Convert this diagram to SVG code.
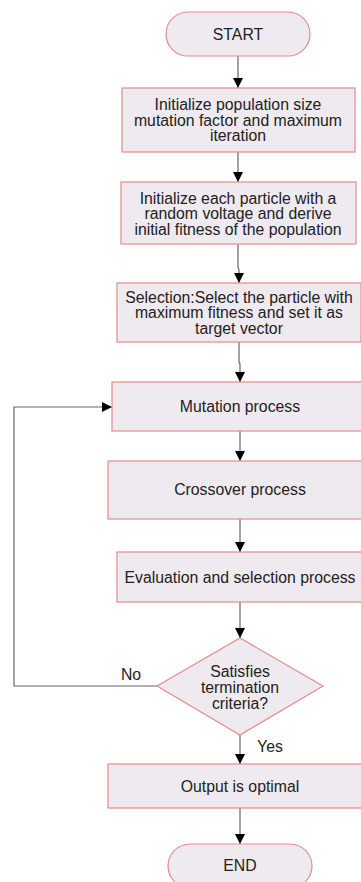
<svg xmlns="http://www.w3.org/2000/svg" width="361" height="882" viewBox="0 0 361 882">
<defs>
<style>
.n{fill:#EFEAF0;stroke:#E58A8C;stroke-width:1.2}
.t{font-family:"Liberation Sans",Arial,sans-serif;font-size:15.8px;fill:#222;text-anchor:middle}
.c{fill:none;stroke:#666;stroke-width:1.2}
</style>
<marker id="ah" markerUnits="userSpaceOnUse" markerWidth="12" markerHeight="10" refX="10" refY="5" orient="auto">
<path d="M0,0 L10,5 L0,10 Z" fill="#000"/>
</marker>
</defs>
<rect width="361" height="882" fill="#fff"/>
<g id="connectors">
<path class="c" d="M238,56 V88" marker-end="url(#ah)"/>
<path class="c" d="M238,152 V182" marker-end="url(#ah)"/>
<path class="c" d="M238,244 V267 L239,270 V283" marker-end="url(#ah)"/>
<path class="c" d="M239,342 V362 L240,364 V382" marker-end="url(#ah)"/>
<path class="c" d="M240,431 V461" marker-end="url(#ah)"/>
<path class="c" d="M240,519 V552" marker-end="url(#ah)"/>
<path class="c" d="M240,602 V638" marker-end="url(#ah)"/>
<path class="c" d="M157,686 H14 V407 H112" marker-end="url(#ah)"/>
<path class="c" d="M240,735 V764" marker-end="url(#ah)"/>
<path class="c" d="M240,808 V844" marker-end="url(#ah)"/>
<text class="t" x="131" y="680">No</text>
<text class="t" x="270" y="752">Yes</text>
</g>
<g id="start">
<rect class="n" x="166" y="12" width="144" height="44" rx="22"/>
<text class="t" x="238" y="40">START</text>
</g>
<g id="init-params">
<rect class="n" x="122" y="88" width="233" height="64"/>
<text class="t" x="238" y="110">Initialize population size</text>
<text class="t" x="238" y="125.5">mutation factor and maximum</text>
<text class="t" x="238" y="141">iteration</text>
</g>
<g id="init-particles">
<rect class="n" x="121" y="182" width="235" height="62"/>
<text class="t" x="238" y="203.5">Initialize each particle with a</text>
<text class="t" x="238" y="219">random voltage and derive</text>
<text class="t" x="238" y="234.5">initial fitness of the population</text>
</g>
<g id="selection">
<rect class="n" x="117" y="283" width="244" height="59"/>
<text class="t" x="239" y="302.5">Selection:Select the particle with</text>
<text class="t" x="239" y="318">maximum fitness and set it as</text>
<text class="t" x="239" y="333.5">target vector</text>
</g>
<g id="mutation">
<rect class="n" x="112" y="382" width="252" height="49"/>
<text class="t" x="240" y="411.5">Mutation process</text>
</g>
<g id="crossover">
<rect class="n" x="108" y="461" width="256" height="58"/>
<text class="t" x="240" y="494.5">Crossover process</text>
</g>
<g id="evaluation">
<rect class="n" x="117" y="552" width="247" height="50"/>
<text class="t" x="240" y="582.5">Evaluation and selection process</text>
</g>
<g id="decision">
<polygon class="n" points="240,638 323,686 240,735 157,686"/>
<text class="t" x="240" y="676.5">Satisfies</text>
<text class="t" x="240" y="692.5">termination</text>
<text class="t" x="240" y="708.5">criteria?</text>
</g>
<g id="output">
<rect class="n" x="108" y="764" width="256" height="44"/>
<text class="t" x="240" y="791.5">Output is optimal</text>
</g>
<g id="end">
<rect class="n" x="168" y="844" width="144" height="44" rx="22"/>
<text class="t" x="240" y="870.5">END</text>
</g>
</svg>
